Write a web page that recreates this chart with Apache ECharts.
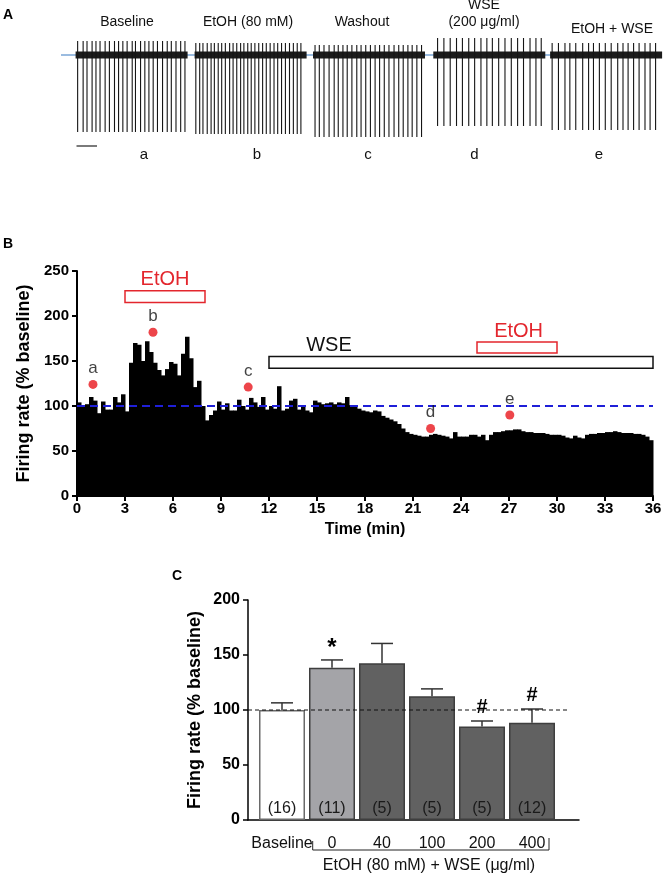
<!DOCTYPE html>
<html><head><meta charset="utf-8">
<script src="https://cdn.jsdelivr.net/npm/echarts@6/dist/echarts.min.js"></script>
<style>html,body{margin:0;padding:0;background:#fff}#c{width:666px;height:876px}</style>
</head><body><div id="c"></div>
<script>
// ---------------- DATA ----------------
// Panel A: recording segments
const segmentLabels = ['Baseline', 'EtOH (80 mM)', 'Washout', 'WSE\n(200 μg/ml)', 'EtOH + WSE'];
const segmentLetters = ['a', 'b', 'c', 'd', 'e'];
const segmentDuration = 5.5; // s
const spikeTimesBaseline = [0.10,0.37,0.56,0.81,1.00,1.20,1.45,1.66,1.91,2.11,2.32,2.53,2.78,2.94,3.19,3.40,3.60,3.81,4.02,4.27,4.50,4.70,4.93,5.16,5.37];
const spikeTimesEtOH = [0.06,0.25,0.41,0.62,0.81,0.97,1.16,1.33,1.51,1.72,1.89,2.07,2.26,2.42,2.61,2.78,2.96,3.15,3.34,3.52,3.71,3.90,4.08,4.27,4.46,4.66,4.85,5.04,5.22];
const spikeTimesWashout = [0.10,0.31,0.54,0.79,1.04,1.24,1.47,1.68,1.91,2.15,2.36,2.59,2.82,3.05,3.27,3.50,3.73,3.98,4.21,4.43,4.66,4.87,5.10,5.33];
const spikeTimesWSE = [0.21,0.52,0.83,1.14,1.43,1.74,2.03,2.34,2.63,2.90,3.21,3.52,3.83,4.14,4.43,4.75,5.04,5.30];
const spikeTimesEtOHWSE = [0.10,0.41,0.73,0.97,1.26,1.60,1.89,2.13,2.42,2.71,3.00,3.32,3.58,3.83,4.10,4.37,4.66,4.91,5.18];
const spikeUpBySegment = [14, 12, 10, 17, 12];     // overshoot above baseline
const spikeDownBySegment = [77, 79, 82, 71, 75];   // trough below baseline

// Panel B: firing-rate histogram, 15 s bins
const binMinutes = 0.25;
const firingRate = [
  104,99,102,110,106,92,105,96,96,110,104,113,94,
  148,170,168,150,172,160,148,140,134,141,149,147,134,158,177,153,
  121,128,100,
  84,90,95,105,96,103,95,95,107,100,96,109,104,99,110,96,
  100,97,122,95,97,106,108,96,99,95,93,106,104,102,103,104,102,104,103,110,101,99,97,95,94,93,95,94,89,87,85,83,80,75,71,69,68,67,66,66,68,69,68,67,66,64,71,66,
  66,66,68,68,66,68,62,68,71,71,72,73,73,74,74,72,71,71,70,70,70,69,68,68,68,67,65,64,67,65,64,68,69,69,70,70,71,71,72,71,70,70,70,69,69,68,66,62
];
const baselineLevel = 100;
const markerTimes = [1.0, 4.75, 10.7, 22.1, 27.05];
const markerValues = [124, 182, 121, 75, 90];
const markerLetters = ['a', 'b', 'c', 'd', 'e'];
const treatmentNames = ['EtOH', 'WSE', 'EtOH'];
const treatmentStart = [3, 12, 25];
const treatmentEnd = [8, 36, 30];
const treatmentLow = [215, 142, 159];
const treatmentHigh = [228, 155, 171];
const treatmentLabelAt = [5.5, 15.75, 27.6];
const treatmentColors = ['#e3262d', '#111111', '#e3262d'];

// Panel C: summary bars
const groupLabels = ['Baseline', '0', '40', '100', '200', '400'];
const groupMeans = [100, 138.5, 142.5, 112.5, 85, 88.5];
const groupSEM = [6.5, 7, 18, 6.7, 5, 12.4];
const groupN = [16, 11, 5, 5, 5, 12];
const groupSig = ['', '*', '', '', '#', '#'];
const groupColors = ['#ffffff', '#a4a4a8', '#616161', '#616161', '#616161', '#616161'];

// ---------------- LAYOUT / STYLE ----------------
const FONT = '"Liberation Sans", Arial, Helvetica, sans-serif';
const segLeft = [75.6, 194.6, 313, 433.3, 550.1];
const segWidth = 112;
const traceTop = 38, traceHeight = 100;
const spikeSets = [spikeTimesBaseline, spikeTimesEtOH, spikeTimesWashout, spikeTimesWSE, spikeTimesEtOHWSE];

const grids = [], xAxes = [], yAxes = [], series = [];
for (let i = 0; i < 5; i++) {
  grids.push({left: segLeft[i], top: traceTop, width: segWidth, height: traceHeight});
  xAxes.push({gridIndex: i, type: 'value', min: 0, max: segmentDuration, show: false});
  yAxes.push({gridIndex: i, type: 'value', min: -83, max: 17, show: false});
  series.push({
    type: 'line', xAxisIndex: i, yAxisIndex: i, silent: true, symbol: 'none', z: 3,
    data: [[0, 0], [segmentDuration, 0]],
    lineStyle: {color: '#1b1b1b', width: 7}
  });
  series.push({
    type: 'custom', xAxisIndex: i, yAxisIndex: i, silent: true, z: 4,
    data: spikeSets[i].map(t => [t, spikeUpBySegment[i], -spikeDownBySegment[i]]),
    renderItem: function (params, api) {
      const t = api.value(0);
      const a = api.coord([t, api.value(1)]);
      const b = api.coord([t, api.value(2)]);
      return {type: 'line', shape: {x1: a[0], y1: a[1], x2: b[0], y2: b[1]},
        style: {stroke: '#151515', lineWidth: 1.1}};
    }
  });
}
// blue baseline across panel A (grid 5)
grids.push({left: 61, top: traceTop, width: 601, height: traceHeight});
xAxes.push({gridIndex: 5, type: 'value', min: 0, max: 1, show: false});
yAxes.push({gridIndex: 5, type: 'value', min: -83, max: 17, show: false});
series.push({type: 'line', xAxisIndex: 5, yAxisIndex: 5, silent: true, symbol: 'none', z: 1,
  data: [[0, 0], [1, 0]], lineStyle: {color: '#7aa6d6', width: 1.5}});

// Panel B (grid 6)
const axisStyle = {
  axisLine: {lineStyle: {color: '#000', width: 2}},
  axisTick: {length: 5, lineStyle: {color: '#000', width: 2}},
  axisLabel: {fontSize: 15, fontWeight: 'bold', color: '#000', fontFamily: FONT},
  splitLine: {show: false},
  nameTextStyle: {fontSize: 18, fontWeight: 'bold', color: '#000', fontFamily: FONT}
};
grids.push({left: 77, top: 271, width: 576, height: 225});
xAxes.push(Object.assign({gridIndex: 6, type: 'value', min: 0, max: 36, interval: 3,
  name: 'Time (min)', nameLocation: 'middle', nameGap: 26}, axisStyle,
  {axisLabel: Object.assign({}, axisStyle.axisLabel, {margin: 5}),
   nameTextStyle: {fontSize: 16, fontWeight: 'bold', color: '#000', fontFamily: FONT}}));
yAxes.push(Object.assign({gridIndex: 6, type: 'value', min: 0, max: 250, interval: 50,
  name: 'Firing rate (% baseline)', nameLocation: 'middle', nameGap: 41}, axisStyle));
series.push({
  type: 'custom', xAxisIndex: 6, yAxisIndex: 6, silent: true, z: 2,
  data: firingRate.map((v, i) => [i * binMinutes, v]),
  renderItem: function (params, api) {
    const t = api.value(0), v = api.value(1);
    const p0 = api.coord([t, 0]);
    const p1 = api.coord([t + binMinutes, v]);
    return {type: 'rect', shape: {x: p0[0], y: p1[1], width: p1[0] - p0[0] + 0.5, height: p0[1] - p1[1]},
      style: {fill: '#000'}};
  }
});
series.push({type: 'line', xAxisIndex: 6, yAxisIndex: 6, silent: true, symbol: 'none', z: 5,
  data: [[0, baselineLevel], [36, baselineLevel]],
  lineStyle: {color: '#1f1fd8', width: 2, type: [8, 5]}});
series.push({
  type: 'custom', xAxisIndex: 6, yAxisIndex: 6, silent: true, z: 6,
  data: treatmentNames.map((n, i) => [treatmentStart[i], treatmentEnd[i], treatmentLow[i], treatmentHigh[i], treatmentLabelAt[i], i]),
  renderItem: function (params, api) {
    const i = api.value(5);
    const a = api.coord([api.value(0), api.value(3)]);
    const b = api.coord([api.value(1), api.value(2)]);
    const l = api.coord([api.value(4), api.value(3)]);
    return {type: 'group', children: [
      {type: 'rect', shape: {x: a[0], y: a[1], width: b[0] - a[0], height: b[1] - a[1]},
        style: {fill: '#fff', stroke: treatmentColors[i], lineWidth: 1.5}},
      {type: 'text', x: l[0], y: a[1] - 1,
        style: {text: treatmentNames[i], fill: treatmentColors[i], fontSize: 20, fontFamily: FONT,
          textAlign: 'center', textVerticalAlign: 'bottom'}}
    ]};
  }
});
series.push({
  type: 'scatter', xAxisIndex: 6, yAxisIndex: 6, silent: true, z: 7,
  data: markerTimes.map((t, i) => [t, markerValues[i]]),
  symbol: 'circle', symbolSize: 9, itemStyle: {color: '#e8161d'},
  label: {show: true, position: 'top', distance: 3, fontSize: 17, color: '#111', fontFamily: FONT,
    formatter: p => markerLetters[p.dataIndex]}
});

// Panel C: axis grid (7) and bar grid (8)
grids.push({left: 248, top: 600, width: 331, height: 220});
xAxes.push({gridIndex: 7, type: 'value', min: 0, max: 1, axisLine: {lineStyle: {color: '#000', width: 1.5}},
  axisTick: {show: false}, axisLabel: {show: false}, splitLine: {show: false}});
yAxes.push(Object.assign({gridIndex: 7, type: 'value', min: 0, max: 200, interval: 50,
  name: 'Firing rate (% baseline)', nameLocation: 'middle', nameGap: 44}, axisStyle,
  {axisLine: {lineStyle: {color: '#000', width: 1.5}}, axisTick: {length: 5, lineStyle: {color: '#000', width: 1.5}},
   axisLabel: {fontSize: 16, fontWeight: 'bold', color: '#000', fontFamily: FONT}}));
series.push({type: 'line', xAxisIndex: 7, yAxisIndex: 7, silent: true, symbol: 'none', z: 6,
  data: [[0, baselineLevel], [0.964, baselineLevel]],
  lineStyle: {color: '#111', width: 1, type: [4, 3]}});

grids.push({left: 257, top: 600, width: 300, height: 220});
xAxes.push({gridIndex: 8, type: 'category', data: groupLabels, axisLine: {show: false}, axisTick: {show: false},
  axisLabel: {interval: 0, fontSize: 16, color: '#111', margin: 16, fontFamily: FONT}});
yAxes.push({gridIndex: 8, type: 'value', min: 0, max: 200, show: false});
series.push({
  type: 'bar', xAxisIndex: 8, yAxisIndex: 8, silent: true, barWidth: 46, z: 3,
  data: groupMeans.map((v, i) => ({value: v, itemStyle: {color: groupColors[i],
    borderColor: i === 0 ? '#6a6a6a' : '#3e3e3e', borderWidth: 1.5}})),
  label: {show: true, position: 'insideBottom', distance: 3, fontSize: 16, color: '#1a1a1a', fontFamily: FONT,
    formatter: p => '(' + groupN[p.dataIndex] + ')'}
});
series.push({
  type: 'custom', xAxisIndex: 8, yAxisIndex: 8, silent: true, z: 4,
  data: groupMeans.map((m, i) => [i, m, groupSEM[i]]),
  renderItem: function (params, api) {
    const i = api.value(0), m = api.value(1), s = api.value(2);
    const top = api.coord([i, m + s]);
    const bot = api.coord([i, m]);
    const children = [
      {type: 'line', shape: {x1: bot[0], y1: bot[1], x2: top[0], y2: top[1]}, style: {stroke: '#333', lineWidth: 1.5}},
      {type: 'line', shape: {x1: top[0] - 11, y1: top[1], x2: top[0] + 11, y2: top[1]}, style: {stroke: '#333', lineWidth: 1.5}}
    ];
    if (groupSig[i]) children.push({type: 'text', x: top[0], y: top[1] - (groupSig[i] === '*' ? 0 : 4),
      style: {text: groupSig[i], fontSize: groupSig[i] === '*' ? 24 : 20, fontWeight: 'bold', fill: '#000',
        fontFamily: FONT, textAlign: 'center', textVerticalAlign: 'bottom'}});
    return {type: 'group', children: children};
  }
});

// ---------------- ANNOTATIONS ----------------
const graphic = [
  {type: 'text', left: 3, top: 8, style: {text: 'A', font: 'bold 14px ' + FONT, fill: '#000'}},
  {type: 'text', left: 3, top: 237, style: {text: 'B', font: 'bold 14px ' + FONT, fill: '#000'}},
  {type: 'text', left: 172, top: 569, style: {text: 'C', font: 'bold 14px ' + FONT, fill: '#000'}},
  {type: 'polyline', shape: {points: [[312.7, 841], [312.7, 850], [549, 850], [549, 838]]}, style: {stroke: '#222', lineWidth: 1, fill: null}},
  {type: 'text', x: 429, y: 866, style: {text: 'EtOH (80 mM) + WSE (μg/ml)', font: '16px ' + FONT, fill: '#111', textAlign: 'center', textVerticalAlign: 'middle'}},
  {type: 'line', shape: {x1: 76.5, y1: 146, x2: 97, y2: 146}, style: {stroke: '#222', lineWidth: 1.2}}
];
const labelX = [127, 248, 362, 484, 612];
const labelY = [22, 22, 22, 14, 29];
const letterX = [144, 257, 368, 474.5, 599];
segmentLabels.forEach((t, i) => graphic.push({type: 'text', x: labelX[i], y: labelY[i],
  style: {text: t, font: '14px ' + FONT, fill: '#111', textAlign: 'center', textVerticalAlign: 'middle', lineHeight: 17}}));
segmentLetters.forEach((t, i) => graphic.push({type: 'text', x: letterX[i], y: 155,
  style: {text: t, font: '15px ' + FONT, fill: '#111', textAlign: 'center', textVerticalAlign: 'middle'}}));

const chart = echarts.init(document.getElementById('c'), null, {renderer: 'canvas'});
chart.setOption({
  animation: false,
  backgroundColor: '#fff',
  textStyle: {fontFamily: FONT},
  grid: grids, xAxis: xAxes, yAxis: yAxes, series: series, graphic: graphic
});
</script></body></html>
